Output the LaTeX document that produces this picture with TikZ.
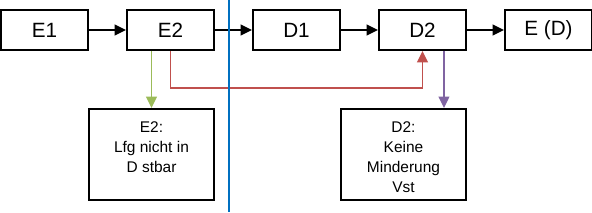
\documentclass[tikz,border=0pt]{standalone}
\usepackage{fontspec}
\setmainfont{Liberation Sans}
\usetikzlibrary{arrows.meta,positioning}
\definecolor{lfggreen}{RGB}{155,187,89}
\definecolor{linkred}{RGB}{192,80,77}
\definecolor{vstpurple}{RGB}{128,100,162}
\definecolor{sepblue}{RGB}{0,112,192}
\tikzset{
  sbox/.style={draw=black, line width=1.5pt, minimum width=65.25pt, minimum height=30pt, inner sep=0pt, font=\fontsize{15.5}{18}\selectfont},
  nbox/.style={draw=black, line width=1.5pt, minimum width=93.75pt, inner xsep=0pt, inner ysep=9.4pt, text height=8.25pt, text depth=41pt, font=\fontsize{11.6}{15}\selectfont},
  farr/.style={-{Triangle[length=8.5pt,width=8pt]}, line width=1.2pt}
}
\begin{document}
\begin{tikzpicture}
\useasboundingbox (0,0) rectangle (444pt,-159.75pt);
\node[sbox] (e1) at (33.375pt,-22.5pt) {E1};
\node[sbox, right=27.75pt of e1] (e2) {E2};
\node[sbox, right=27.75pt of e2] (d1) {D1};
\node[sbox, right=27.75pt of d1] (d2) {D2};
\node[sbox, right=27.75pt of d2] (ed) {E (D)};
\node[nbox, below=42.75pt of e2.south east, anchor=north east] (n1) {\begin{tabular}[t]{@{}c@{}}E2:\\Lfg nicht in\\D stbar\end{tabular}};
\node[nbox, below=42.75pt of d2.south east, anchor=north east] (n2) {\begin{tabular}[t]{@{}c@{}}D2:\\Keine\\Minderung\\Vst\end{tabular}};
\draw[farr] (e1)--(e2); \draw[farr] (e2)--(d1); \draw[farr] (d1)--(d2); \draw[farr] (d2)--(ed);
\draw[farr, lfggreen] (e2.south -| n1.north) -- (n1.north);
\draw[farr, linkred] (e2.south) -- ++(0,-27.75pt) -| (d2.south);
\draw[farr, vstpurple] ([xshift=16.1pt]d2.south) -- ([xshift=16.1pt]d2.south |- n2.north);
\coordinate (septop) at (171.75pt,0);
\coordinate (sepbot) at (171.75pt,-159pt);
\draw[sepblue, line width=1.3pt] (septop) -- (sepbot);
\end{tikzpicture}
\end{document}
